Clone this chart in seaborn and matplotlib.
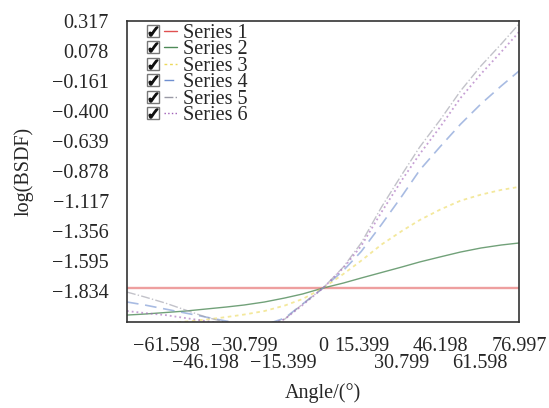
import matplotlib
matplotlib.use("Agg")
import matplotlib.pyplot as plt
from matplotlib.lines import Line2D
from matplotlib.legend_handler import HandlerTuple
import seaborn as sns

angles = [-77, -70, -62, -54, -46, -38, -31, -23, -15, -8, 0,
          8, 15, 23, 31, 38, 46, 54, 62, 70, 77]

series_1 = [-1.813, -1.813, -1.813, -1.813, -1.813, -1.813, -1.813, -1.813, -1.813, -1.813, -1.813,
            -1.813, -1.813, -1.813, -1.813, -1.813, -1.813, -1.813, -1.813, -1.813, -1.813]
series_2 = [-2.028, -2.020, -2.008, -1.996, -1.980, -1.964, -1.948, -1.924, -1.892, -1.860, -1.813,
            -1.773, -1.733, -1.689, -1.645, -1.605, -1.565, -1.526, -1.494, -1.470, -1.454]
series_3 = [-2.099, -2.099, -2.091, -2.080, -2.064, -2.044, -2.024, -1.996, -1.952, -1.900, -1.813,
            -1.701, -1.595, -1.466, -1.358, -1.271, -1.188, -1.117, -1.069, -1.031, -1.007]
series_4 = [-1.924, -1.948, -1.980, -2.012, -2.044, -2.076, -2.099, -2.107, -2.052, -1.940, -1.813,
            -1.673, -1.522, -1.306, -1.080, -0.873, -0.687, -0.508, -0.347, -0.203, -0.084]
series_5 = [-1.845, -1.884, -1.932, -1.988, -2.044, -2.087, -2.115, -2.123, -2.060, -1.940, -1.813,
            -1.645, -1.454, -1.167, -0.908, -0.689, -0.474, -0.243, -0.044, 0.131, 0.291]
series_6 = [-1.996, -2.012, -2.028, -2.052, -2.076, -2.099, -2.123, -2.123, -2.060, -1.948, -1.813,
            -1.653, -1.478, -1.207, -0.952, -0.745, -0.530, -0.299, -0.108, 0.068, 0.227]

names = ["Series 1", "Series 2", "Series 3", "Series 4", "Series 5", "Series 6"]
values = [series_1, series_2, series_3, series_4, series_5, series_6]
colors = ["#e05050", "#4e8a58", "#ecd95a", "#6f8fd0", "#9a9aa6", "#a060b8"]
alphas = [0.55, 0.8, 0.6, 0.6, 0.6, 0.6]
styles = ["-", "-", (0, (2, 2)), (0, (7, 4)), "-.", ":"]
widths = [1.7, 1.0, 1.3, 1.2, 1.0, 1.3]

# x tick labels sit on two staggered rows in the original
xticks_row1 = [-61.598, -30.799, 0, 15.399, 46.198, 76.997]
xticks_row2 = [-46.198, -15.399, 30.799, 61.598]
yticks = [0.317, 0.078, -0.161, -0.400, -0.639, -0.878, -1.117, -1.356, -1.595, -1.834]


class Row(tuple):
    pass


def fmt(v):
    s = "0" if v == 0 else f"{v:.3f}"
    return s.replace("-", "\u2212")


sns.set_style("white")
plt.rcParams["font.family"] = ["Liberation Serif", "DejaVu Sans"]
plt.rcParams["font.size"] = 14.5

fig = plt.figure(figsize=(5.49, 4.08), dpi=100)
ax = fig.add_axes([0.2313, 0.2115, 0.7141, 0.7378])

for name, vals, c, a, ls, lw in zip(names, values, colors, alphas, styles, widths):
    sns.lineplot(x=angles, y=vals, color=c, linestyle=ls, linewidth=lw,
                 alpha=a, ax=ax, legend=False)

ax.set_xlim(-77, 76.997)
ax.set_ylim(-2.081, 0.317)
ax.set_xticks(xticks_row1)
ax.set_xticklabels([fmt(v) for v in xticks_row1])
ax.set_xticks(xticks_row2, minor=True)
ax.set_xticklabels([fmt(v) for v in xticks_row2], minor=True)
ax.set_yticks(yticks)
ax.set_yticklabels([fmt(v) for v in yticks])
ax.tick_params(axis="both", which="both", direction="in", length=5, width=1,
               color="#333333", top=False, right=False, labelsize=14.5)
ax.tick_params(axis="y", pad=13)
ax.tick_params(axis="x", which="major", pad=11)
ax.tick_params(axis="x", which="minor", pad=23.5)
for s in ax.spines.values():
    s.set_color("#333333")
    s.set_linewidth(1.2)

ax.set_xlabel("Angle/(\u00b0)", fontsize=14.5, labelpad=7)
ax.set_ylabel("log(BSDF)", fontsize=14.5, labelpad=13)

handles = []
for c, ls in zip(colors, styles):
    box = Line2D([], [], marker="s", linestyle="none", markersize=8,
                 markerfacecolor="white", markeredgecolor="#777777", markeredgewidth=1)
    tick = Line2D([], [], marker="$\u2713$", linestyle="none", markersize=6.5,
                  color="#111111")
    ln = Line2D([], [], color=c, linestyle=ls, linewidth=1.0)
    handles.append(Row(((box, tick), ln)))
ax.legend(handles, names, loc="upper left", bbox_to_anchor=(0.05, 0.99), frameon=False,
          handler_map={Row: HandlerTuple(ndivide=None, pad=0.25)},
          handlelength=1.5, handletextpad=0.3, labelspacing=-0.13, borderpad=0,
          borderaxespad=0, fontsize=14.5)

fig.savefig("out.png", dpi=100)
